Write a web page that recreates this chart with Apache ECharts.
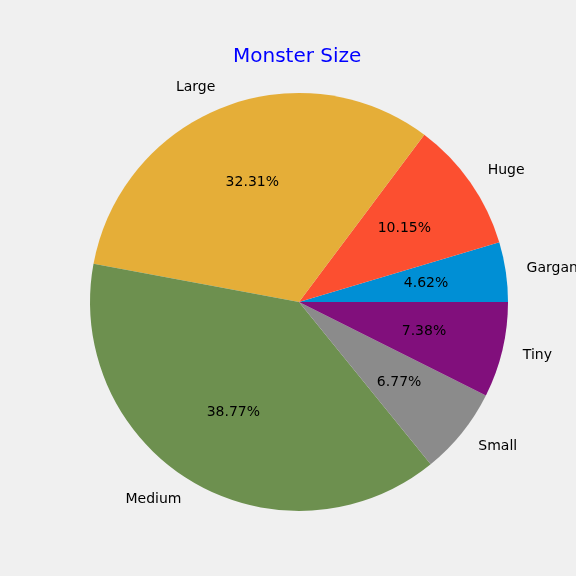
<!DOCTYPE html>
<html>
<head>
<meta charset="utf-8">
<script src="https://cdn.jsdelivr.net/npm/echarts@6/dist/echarts.min.js"></script>
<style>
  html, body { margin: 0; padding: 0; background: #f0f0f0; }
  #main { width: 576px; height: 576px; }
</style>
</head>
<body>
<div id="main"></div>
<script>
// monster counts by size, counter-clockwise from 3 o'clock
var sizes = ['Gargantuan', 'Huge', 'Large', 'Medium', 'Small', 'Tiny'];
var counts = [15, 33, 105, 126, 22, 24];
var colors = ['#008fd5', '#fc4f30', '#e5ae38', '#6d904f', '#8b8b8b', '#810f7c'];

var chart = echarts.init(document.getElementById('main'));

var pieData = sizes.map(function (name, i) {
    return { name: name, value: counts[i], itemStyle: { color: colors[i] } };
});

var R = 209;
var center = [299, 302];

var option = {
    backgroundColor: '#f0f0f0',
    animation: false,
    title: {
        text: 'Monster Size',
        left: 228,
        top: 42,
        textStyle: {
            color: '#0000ff',
            fontFamily: 'DejaVu Sans',
            fontWeight: 'normal',
            fontSize: 20
        }
    },
    series: [
        {
            // the wedges and the outer name labels
            type: 'pie',
            center: center,
            radius: R,
            startAngle: 0,
            clockwise: false,
            avoidLabelOverlap: false,
            silent: true,
            data: pieData,
            itemStyle: { borderWidth: 0 },
            label: {
                show: true,
                position: 'outside',
                distanceToLabelLine: 0,
                formatter: '{b}',
                color: '#000',
                fontFamily: 'DejaVu Sans',
                fontSize: 14
            },
            labelLine: { show: false, length: 21, length2: 0 }
        },
        {
            // invisible ring, only for the percentage labels at 0.6 r
            type: 'pie',
            center: center,
            radius: R * 1.2,
            startAngle: 0,
            clockwise: false,
            silent: true,
            avoidLabelOverlap: false,
            percentPrecision: 2,
            data: sizes.map(function (name, i) {
                return { name: name, value: counts[i] };
            }),
            itemStyle: { color: 'rgba(0,0,0,0)', borderWidth: 0 },
            label: {
                show: true,
                position: 'inside',
                formatter: function (p) { return p.percent.toFixed(2) + '%'; },
                color: '#000',
                fontFamily: 'DejaVu Sans',
                fontSize: 14
            },
            labelLine: { show: false }
        }
    ]
};
chart.setOption(option);
</script>
</body>
</html>
